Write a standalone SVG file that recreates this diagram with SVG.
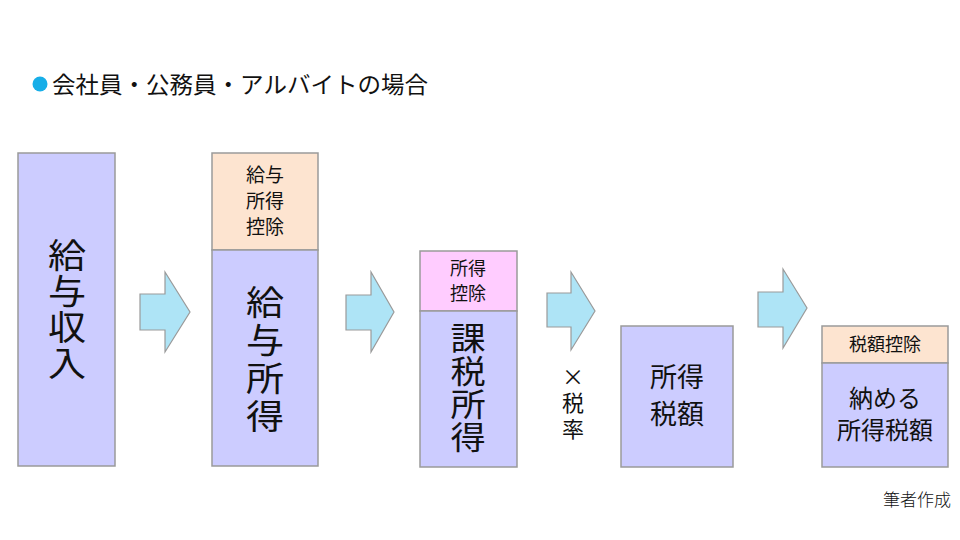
<svg xmlns="http://www.w3.org/2000/svg" width="960" height="540" viewBox="0 0 960 540">
<style>
text{font-family:"Noto Sans CJK JP","Noto Sans",sans-serif;fill:#111;text-anchor:middle;dominant-baseline:central}
.v{writing-mode:vertical-rl;text-orientation:upright}
.main{fill:#ccccff;stroke:#9a9a9a;stroke-width:1.5}
.peach{fill:#fde4d0;stroke:#9a9a9a;stroke-width:1.5}
.pink{fill:#ffccff;stroke:#9a9a9a;stroke-width:1.5}
.arr{fill:#aee4f6;stroke:#9a9a9a;stroke-width:1.2}
</style>
<rect width="960" height="540" fill="#fff"/>
<g id="title">
<circle cx="40" cy="84" r="7.5" fill="#17aee8"/>
<text x="52" y="83" font-size="23" style="text-anchor:start" textLength="376" lengthAdjust="spacingAndGlyphs">会社員・公務員・アルバイトの場合</text>
</g>
<g id="kyuyo-shunyu">
<rect class="main" x="18" y="153" width="97" height="313"/>
<text class="v" transform="translate(67,310) scale(1.12,1)" font-size="34" letter-spacing="2">給与収入</text>
</g>
<g id="kyuyo-shotoku">
<rect class="peach" x="212" y="153" width="106" height="97"/>
<rect class="main" x="212" y="250" width="106" height="216"/>
<text x="265" y="173" font-size="19">給与<tspan x="265" dy="26">所得</tspan><tspan x="265" dy="26">控除</tspan></text>
<text class="v" transform="translate(265,361) scale(1.12,1)" font-size="34" letter-spacing="4">給与所得</text>
</g>
<g id="kazei-shotoku">
<rect class="pink" x="420" y="251" width="97" height="60"/>
<rect class="main" x="420" y="311" width="97" height="156"/>
<text x="468" y="267" font-size="18">所得<tspan x="468" dy="25">控除</tspan></text>
<text class="v" transform="translate(468,388) scale(1.1,1)" font-size="32" letter-spacing="1">課税所得</text>
</g>
<g id="zeiritsu">
<text class="v" x="573" y="405" font-size="22" letter-spacing="4">×税率</text>
</g>
<g id="shotokuzeigaku">
<rect class="main" x="621" y="326" width="112" height="141"/>
<text x="677" y="375" font-size="27">所得<tspan x="677" dy="37">税額</tspan></text>
</g>
<g id="osameru">
<rect class="peach" x="822" y="326" width="126" height="37"/>
<rect class="main" x="822" y="363" width="126" height="104"/>
<text x="885" y="343" font-size="18">税額控除</text>
<text x="885" y="396" font-size="24">納める<tspan x="885" dy="32">所得税額</tspan></text>
</g>
<g id="connectors">
<polygon class="arr" points="140,294 165,294 165,272 190,312 165,352 165,330 140,330"/>
<polygon class="arr" points="346,295 371,295 371,272 394,312 371,352 371,330 346,330"/>
<polygon class="arr" points="547,293 571,293 571,272 595,311 571,350 571,327 547,327"/>
<polygon class="arr" points="758,292 783,292 783,269 807,308 783,348 783,327 758,327"/>
</g>
<text x="917" y="498" font-size="17" font-weight="300">筆者作成</text>
</svg>
